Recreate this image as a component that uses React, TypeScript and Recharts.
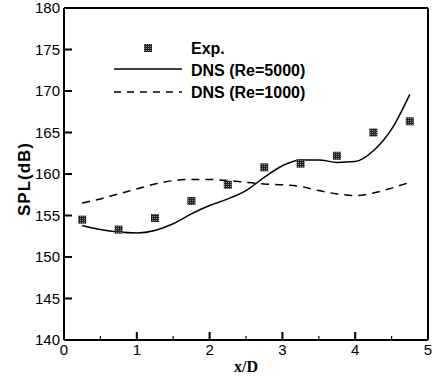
import React from 'react';
import { ComposedChart, Line, Scatter, XAxis, YAxis, ReferenceLine } from 'recharts';

// x/D sampling of the DNS curves
const xLine = [0.25, 0.5, 0.75, 1.0, 1.25, 1.5, 1.75, 2.0, 2.25, 2.5, 2.75, 3.0, 3.25, 3.5, 3.75, 4.0, 4.25, 4.5, 4.75];
const re5000 = [153.8, 153.3, 153.0, 152.9, 153.2, 154.0, 155.2, 156.2, 157.0, 158.0, 159.6, 161.0, 161.7, 161.7, 161.4, 161.5, 162.8, 165.4, 169.6];
const re1000 = [156.5, 157.0, 157.6, 158.2, 158.8, 159.2, 159.35, 159.35, 159.2, 159.0, 158.8, 158.7, 158.5, 158.0, 157.6, 157.4, 157.7, 158.3, 159.0];

// experiment
const xExp = [0.25, 0.75, 1.25, 1.75, 2.25, 2.75, 3.25, 3.75, 4.25, 4.75];
const expSpl = [154.5, 153.3, 154.7, 156.75, 158.7, 160.8, 161.25, 162.2, 165.0, 166.35];

const xTicks = [0, 0.5, 1, 1.5, 2, 2.5, 3, 3.5, 4, 4.5, 5];
const yTicks = [140, 145, 150, 155, 160, 165, 170, 175, 180];

const legendItems = ['Exp.', 'DNS (Re=5000)', 'DNS (Re=1000)'];

const solidData = xLine.map((x, i) => ({ x, spl: re5000[i] }));
const dashedData = xLine.map((x, i) => ({ x, spl: re1000[i] }));
const expData = xExp.map((x, i) => ({ x, spl: expSpl[i] }));

const FONT = '"Liberation Sans", Arial, sans-serif';

const XTick = ({ x, y, payload }: any) => {
  const major = Number.isInteger(payload.value);
  return (
    <g>
      <line x1={x} y1={y} x2={x} y2={y - (major ? 8 : 4)} stroke="#000" strokeWidth={major ? 2 : 1.2} />
      {major && (
        <text x={x} y={y + 15} textAnchor="middle" fontFamily={FONT} fontSize={15} fill="#000">
          {payload.value}
        </text>
      )}
    </g>
  );
};

const YTick = ({ x, y, payload }: any) => (
  <g>
    <line x1={x} y1={y} x2={x + 8} y2={y} stroke="#000" strokeWidth={2} />
    <text x={x - 4} y={y + 5} textAnchor="end" fontFamily={FONT} fontSize={15} fill="#000">
      {payload.value}
    </text>
  </g>
);

const ExpMarker = ({ cx, cy }: any) => (
  <rect x={cx - 4} y={cy - 4} width={8} height={8} fill="url(#checker)" />
);

export default function App() {
  return (
    <div style={{ position: 'absolute', left: 0, top: 0, width: 433, height: 379, background: '#fff' }}>
      <ComposedChart width={433} height={379} margin={{ top: 8, right: 5, bottom: 0, left: 0 }}>
        <defs>
          <pattern id="checker" width="2" height="2" patternUnits="userSpaceOnUse">
            <rect width="2" height="2" fill="#222" />
            <rect width="1" height="1" fill="#888" />
          </pattern>
        </defs>
        <XAxis
          dataKey="x"
          type="number"
          domain={[0, 5]}
          ticks={xTicks}
          interval={0}
          height={39}
          tickSize={0}
          tickMargin={0}
          tickLine={false}
          tick={<XTick />}
          axisLine={{ stroke: '#000', strokeWidth: 2 }}
          allowDataOverflow
        />
        <YAxis
          type="number"
          domain={[140, 180]}
          ticks={yTicks}
          interval={0}
          width={64}
          tickSize={0}
          tickMargin={0}
          tickLine={false}
          tick={<YTick />}
          axisLine={{ stroke: '#000', strokeWidth: 2 }}
          allowDataOverflow
        />
        <ReferenceLine y={180} stroke="#000" strokeWidth={2} />
        <ReferenceLine x={5} stroke="#000" strokeWidth={2} />
        <Line data={dashedData} dataKey="spl" type="monotone" stroke="#000" strokeWidth={1.5} strokeDasharray="8 6" dot={false} isAnimationActive={false} />
        <Line data={solidData} dataKey="spl" type="monotone" stroke="#000" strokeWidth={1.5} dot={false} isAnimationActive={false} />
        <Scatter data={expData} dataKey="spl" shape={<ExpMarker />} isAnimationActive={false} />
      </ComposedChart>
      <svg width={433} height={379} style={{ position: 'absolute', left: 0, top: 0, pointerEvents: 'none' }}>
        <rect x={144} y={44} width={8} height={8} fill="url(#checker)" />
        <line x1={114} y1={69} x2={182} y2={69} stroke="#000" strokeWidth={1.5} />
        <line x1={114} y1={92} x2={182} y2={92} stroke="#000" strokeWidth={1.5} strokeDasharray="7 6" />
        {legendItems.map((t, i) => (
          <text key={t} x={191} y={54 + i * 22} fontFamily={FONT} fontSize={16} fontWeight="bold" fill="#000">
            {t}
          </text>
        ))}
        <text
          x={24}
          y={179}
          transform="rotate(-90 24 179)"
          textAnchor="middle"
          dominantBaseline="central"
          fontFamily={FONT}
          fontSize={17}
          fontWeight="bold"
          letterSpacing={1}
          fill="#000"
        >
          SPL(dB)
        </text>
        <text x={246} y={372} textAnchor="middle" fontFamily='"Liberation Serif", "Times New Roman", serif' fontSize={16} fontWeight="bold" fill="#000">
          x/D
        </text>
      </svg>
    </div>
  );
}
